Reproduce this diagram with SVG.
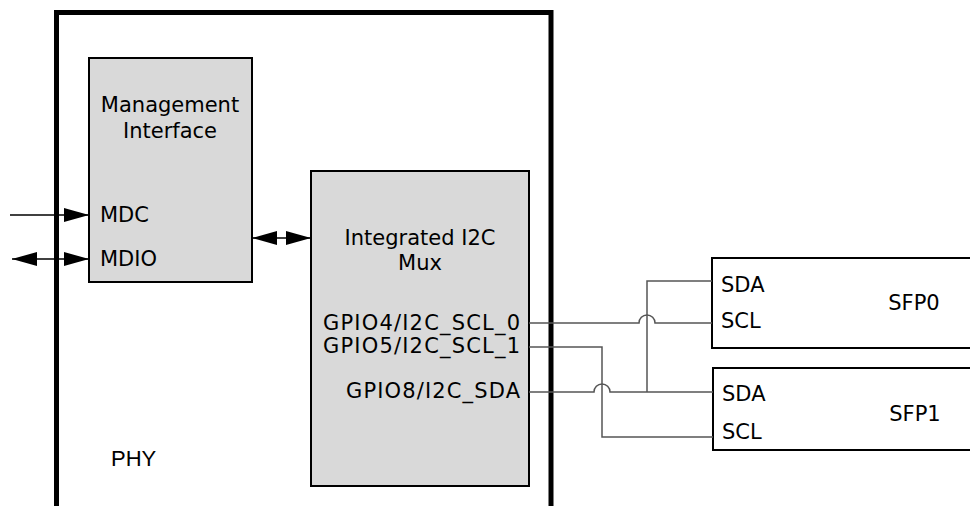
<svg xmlns="http://www.w3.org/2000/svg" width="970" height="506" viewBox="0 0 970 506">
<defs>
<style>
.t{font-family:"DejaVu Sans",Verdana,sans-serif;font-size:21px;fill:#000}
.blk{fill:#d9d9d9;stroke:#000;stroke-width:2}
.sfp{fill:#fff;stroke:#000;stroke-width:2}
.w{fill:none;stroke:#555;stroke-width:1.5}
.a{fill:none;stroke:#000;stroke-width:1.5}
</style>
<marker id="ah" viewBox="0 0 25 14" refX="25" refY="7" markerWidth="25" markerHeight="14" markerUnits="userSpaceOnUse" orient="auto-start-reverse">
<path d="M0,0 L25,7 L0,14 Z" fill="#000"/>
</marker>
</defs>
<rect width="970" height="506" fill="#fff"/>
<g id="phy">
<rect x="56.5" y="12.5" width="494.5" height="500" fill="#fff" stroke="#000" stroke-width="5"/>
<text x="111" y="466" font-family="Liberation Sans,Arial,sans-serif" font-size="22">PHY</text>
</g>
<g id="mgmt">
<rect class="blk" x="89" y="58" width="163" height="224"/>
<text class="t" x="170" y="112" text-anchor="middle">Management</text>
<text class="t" x="170" y="138" text-anchor="middle">Interface</text>
<text class="t" x="100" y="222">MDC</text>
<text class="t" x="100" y="266">MDIO</text>
</g>
<g id="mux">
<rect class="blk" x="311" y="171" width="218" height="315"/>
<text class="t" x="420" y="245" text-anchor="middle">Integrated I2C</text>
<text class="t" x="420" y="270" text-anchor="middle">Mux</text>
<text class="t" x="520" y="330" text-anchor="end" textLength="197" lengthAdjust="spacing">GPIO4/I2C_SCL_0</text>
<text class="t" x="520" y="353" text-anchor="end" textLength="197" lengthAdjust="spacing">GPIO5/I2C_SCL_1</text>
<text class="t" x="520" y="398" text-anchor="end" textLength="174" lengthAdjust="spacing">GPIO8/I2C_SDA</text>
</g>
<g id="sfp0">
<rect class="sfp" x="712" y="258" width="270" height="90"/>
<text class="t" x="721" y="292">SDA</text>
<text class="t" x="721" y="328">SCL</text>
<text class="t" x="914" y="310" text-anchor="middle">SFP0</text>
</g>
<g id="sfp1">
<rect class="sfp" x="713" y="368" width="270" height="82"/>
<text class="t" x="722" y="401">SDA</text>
<text class="t" x="722" y="439">SCL</text>
<text class="t" x="915" y="421" text-anchor="middle">SFP1</text>
</g>
<g id="connectors">
<line class="a" x1="10" y1="215" x2="89" y2="215" marker-end="url(#ah)"/>
<line class="a" x1="12" y1="259" x2="89" y2="259" marker-start="url(#ah)" marker-end="url(#ah)"/>
<line class="a" x1="252" y1="238" x2="311" y2="238" marker-start="url(#ah)" marker-end="url(#ah)"/>
<path class="w" d="M529,323 H639 A8,8 0 0 1 655,323 H712"/>
<path class="w" d="M712,281 H647 V392"/>
<path class="w" d="M529,392 H594 A8,8 0 0 1 610,392 H713"/>
<path class="w" d="M529,347 H602 V437 H713"/>
</g>
</svg>
